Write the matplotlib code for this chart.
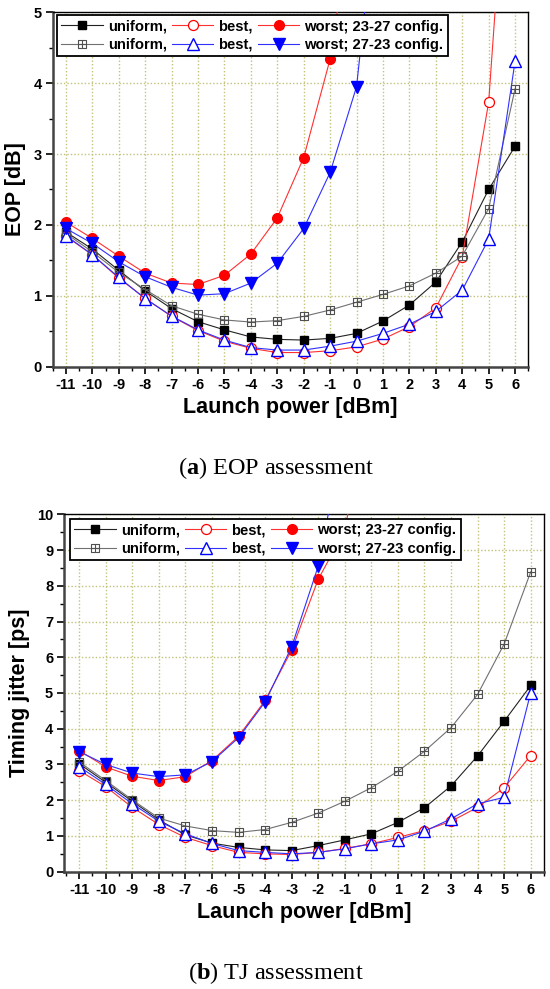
import numpy as np
import matplotlib
matplotlib.use("Agg")
import matplotlib.pyplot as plt
from matplotlib.path import Path
from matplotlib.ticker import MultipleLocator

plt.rcParams['font.family'] = ['Liberation Sans', 'DejaVu Sans']
plt.rcParams['mathtext.fontset'] = 'custom'
plt.rcParams['mathtext.rm'] = 'Liberation Serif'
plt.rcParams['mathtext.bf'] = 'Liberation Serif:bold'

power = [-11, -10, -9, -8, -7, -6, -5, -4, -3, -2, -1, 0, 1, 2, 3, 4, 5, 6]
nan = np.nan

# (a) EOP [dB]
eop_uni_2327 = [1.90, 1.66, 1.36, 1.07, 0.82, 0.635, 0.52, 0.42, 0.386, 0.376, 0.40, 0.47, 0.645, 0.87, 1.195, 1.76, 2.50, 3.11]
eop_best_2327 = [1.84, 1.58, 1.25, 0.965, 0.71, 0.51, 0.36, 0.26, 0.20, 0.20, 0.225, 0.28, 0.39, 0.565, 0.83, 1.55, 3.73, 9.0]
eop_worst_2327 = [2.04, 1.81, 1.56, 1.32, 1.18, 1.16, 1.29, 1.59, 2.10, 2.95, 4.34, 6.8, nan, nan, nan, nan, nan, nan]
eop_uni_2723 = [1.88, 1.62, 1.33, 1.09, 0.86, 0.74, 0.66, 0.63, 0.65, 0.71, 0.80, 0.91, 1.02, 1.14, 1.32, 1.56, 2.23, 3.92]
eop_best_2723 = [1.85, 1.58, 1.26, 0.96, 0.715, 0.52, 0.375, 0.27, 0.235, 0.235, 0.29, 0.36, 0.47, 0.60, 0.78, 1.08, 1.80, 4.31]
eop_worst_2723 = [1.95, 1.74, 1.48, 1.27, 1.12, 1.01, 1.03, 1.18, 1.46, 1.95, 2.74, 3.95, 7.4, nan, nan, nan, nan, nan]

# (b) Timing jitter [ps]
tj_uni_2327 = [3.02, 2.50, 1.97, 1.45, 1.03, 0.80, 0.68, 0.61, 0.59, 0.73, 0.89, 1.06, 1.38, 1.79, 2.40, 3.24, 4.21, 5.21]
tj_best_2327 = [2.83, 2.38, 1.80, 1.32, 0.96, 0.73, 0.54, 0.50, 0.48, 0.54, 0.65, 0.78, 0.96, 1.15, 1.41, 1.80, 2.35, 3.25]
tj_worst_2327 = [3.39, 2.93, 2.67, 2.55, 2.66, 3.11, 3.79, 4.79, 6.20, 8.18, 9.55, 13.5, nan, nan, nan, nan, nan, nan]
tj_uni_2723 = [3.07, 2.55, 2.01, 1.50, 1.28, 1.15, 1.10, 1.18, 1.38, 1.64, 1.97, 2.35, 2.81, 3.37, 4.03, 4.96, 6.37, 8.39]
tj_best_2723 = [2.94, 2.44, 1.90, 1.41, 1.06, 0.79, 0.59, 0.54, 0.50, 0.54, 0.64, 0.78, 0.89, 1.13, 1.48, 1.90, 2.08, 5.01]
tj_worst_2723 = [3.36, 3.00, 2.76, 2.66, 2.71, 3.08, 3.75, 4.75, 6.29, 8.55, 12.4, nan, nan, nan, nan, nan, nan, nan]

labels = ["uniform,", "best,", "worst; 23-27 config.",
          "uniform,", "best,", "worst; 27-23 config."]

# square with a cross inside
sqplus = Path([(-1, -1), (1, -1), (1, 1), (-1, 1), (-1, -1),
               (0, -1), (0, 1), (-1, 0), (1, 0)],
              [Path.MOVETO, Path.LINETO, Path.LINETO, Path.LINETO, Path.CLOSEPOLY,
               Path.MOVETO, Path.LINETO, Path.MOVETO, Path.LINETO])

RED_L = '#ff3030'
BLUE_L = '#3030ff'
GRID_C = '#c2c27a'


def draw(ax, series, ylim, ylabel, xlim, legend_anchor):
    s1, s2, s3, s4, s5, s6 = series
    h = {}
    h[0], = ax.plot(power, s1, color='#222222', lw=0.8, marker='s', ms=5.8,
                    mfc='black', mec='black', zorder=3)
    h[1], = ax.plot(power, s2, color=RED_L, lw=0.8, marker='o', ms=7.2,
                    mfc='white', mec='red', mew=0.9, zorder=3)
    h[2], = ax.plot(power, s3, color=RED_L, lw=0.8, marker='o', ms=7,
                    mfc='red', mec='red', zorder=3)
    h[3], = ax.plot(power, s4, color='#707070', lw=0.8, marker=sqplus, ms=6.2,
                    mfc='none', mec='#505050', mew=0.8, zorder=3)
    h[4], = ax.plot(power, s5, color=BLUE_L, lw=0.8, marker='^', ms=8,
                    mfc='white', mec='blue', mew=1.0, zorder=3)
    h[5], = ax.plot(power, s6, color=BLUE_L, lw=0.8, marker='v', ms=8,
                    mfc='blue', mec='blue', zorder=3)

    ax.set_xlim(*xlim)
    ax.set_ylim(*ylim)
    ax.xaxis.set_major_locator(MultipleLocator(1))
    ax.xaxis.set_minor_locator(MultipleLocator(0.5))
    ax.yaxis.set_major_locator(MultipleLocator(1))
    ax.yaxis.set_minor_locator(MultipleLocator(0.5))
    ax.set_xticks(power)
    ax.set_xticklabels([str(p) for p in power])
    ax.grid(True, which='major', color=GRID_C, linestyle=(0, (1, 1.5)), lw=1.0)
    ax.set_axisbelow(True)
    ax.tick_params(which='major', direction='out', length=5, width=1.2,
                   labelsize=10.5, pad=3)
    ax.tick_params(which='minor', direction='out', length=3, width=1.0)
    for lab in ax.get_xticklabels() + ax.get_yticklabels():
        lab.set_fontweight('bold')
    for side in ('left', 'bottom'):
        ax.spines[side].set_linewidth(1.8)
        ax.spines[side].set_color('#444444')
    for side in ('top', 'right'):
        ax.spines[side].set_linewidth(1.0)
        ax.spines[side].set_color('black')
    ax.set_xlabel("Launch power [dBm]", fontsize=15.5, fontweight='bold', labelpad=4)
    ax.set_ylabel(ylabel, fontsize=15.5, fontweight='bold', labelpad=5)

    order = [h[0], h[3], h[1], h[4], h[2], h[5]]
    olabels = [labels[0], labels[3], labels[1], labels[4], labels[2], labels[5]]
    leg = ax.legend(order, olabels, ncol=3, loc='upper left',
                    bbox_to_anchor=legend_anchor, borderaxespad=0,
                    prop={'weight': 'bold', 'size': 10.6},
                    handlelength=2.8, handletextpad=0.35, columnspacing=0.35,
                    labelspacing=0.3, borderpad=0.3, fancybox=False,
                    framealpha=1, edgecolor='black')
    leg.get_frame().set_linewidth(1.3)
    leg.set_zorder(5)


fig = plt.figure(figsize=(5.5, 9.89), dpi=100)
ax1 = fig.add_axes([0.0958, 0.6292, 0.8647, 0.3584])
ax2 = fig.add_axes([0.1169, 0.1186, 0.8722, 0.3614])

draw(ax1, [eop_uni_2327, eop_best_2327, eop_worst_2327,
           eop_uni_2723, eop_best_2723, eop_worst_2723],
     (0, 5), "EOP [dB]", (-11.5, 6.5), (0.009, 0.992))
draw(ax2, [tj_uni_2327, tj_best_2327, tj_worst_2327,
           tj_uni_2723, tj_best_2723, tj_worst_2723],
     (0, 10), "Timing jitter [ps]", (-11.56, 6.5), (0.012, 0.987))

fig.text(276 / 550, 1 - 467.7 / 989, r"($\mathbf{a}$) EOP assessment",
         ha='center', va='center', fontsize=17.5, family='Liberation Serif')
fig.text(276 / 550, 1 - 973 / 989, r"($\mathbf{b}$) TJ assessment",
         ha='center', va='center', fontsize=17.5, family='Liberation Serif')

fig.savefig("out.png", dpi=100)
